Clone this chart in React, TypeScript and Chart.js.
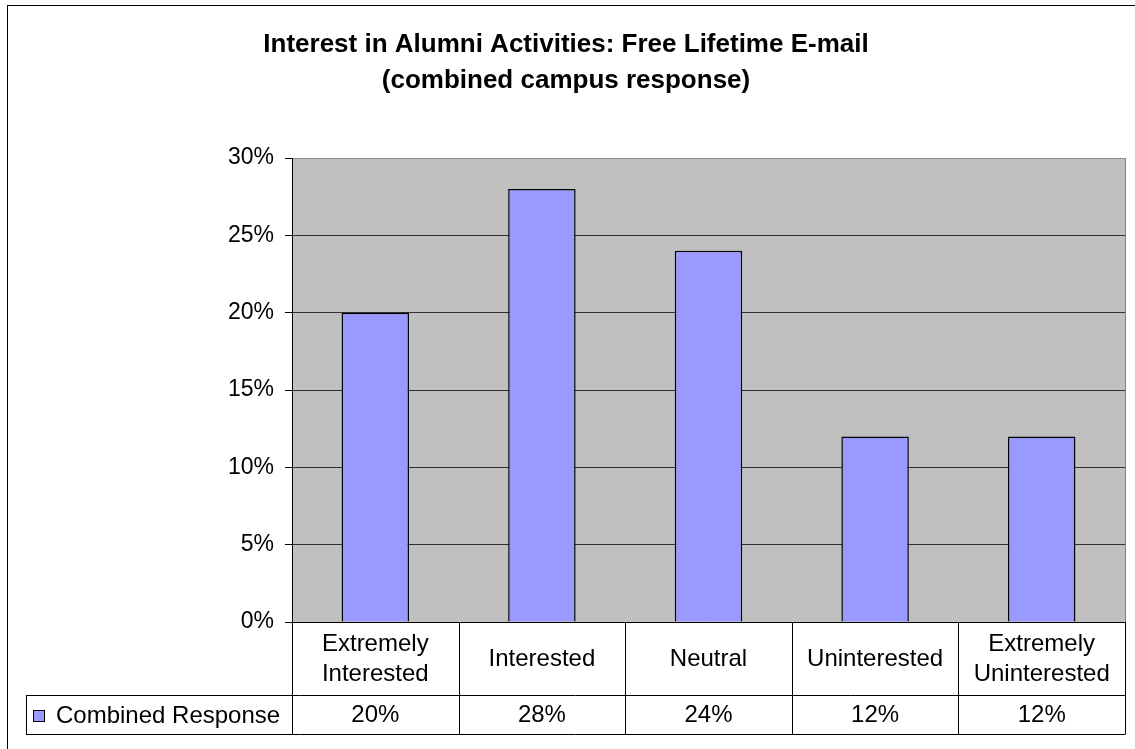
import React, { useEffect, useRef } from "react";
import { Chart, registerables } from "chart.js";

Chart.register(...registerables);

const categories: string[][] = [
  ["Extremely", "Interested"],
  ["Interested"],
  ["Neutral"],
  ["Uninterested"],
  ["Extremely", "Uninterested"],
];
const seriesName = "Combined Response";
const values: number[] = [20, 28, 24, 12, 12];
const yTicks: number[] = [0, 5, 10, 15, 20, 25, 30];
const titleLines: string[] = [
  "Interest in Alumni Activities: Free Lifetime E-mail",
  "(combined campus response)",
];

const FONT = "'Liberation Sans', Arial, sans-serif";
const BAR_COLOR = "#9999FF";

const excelPlugin = {
  id: "excelPlugin",
  beforeDraw(chart: any) {
    const ctx = chart.ctx;
    const a = chart.chartArea;
    ctx.save();
    ctx.fillStyle = "#ffffff";
    ctx.fillRect(0, 0, chart.width, chart.height);
    ctx.fillStyle = "#C0C0C0";
    ctx.fillRect(a.left, a.top, a.right - a.left, a.bottom - a.top);
    ctx.restore();
  },
  afterDraw(chart: any) {
    const ctx = chart.ctx;
    const a = chart.chartArea;
    const x = chart.scales.x;
    ctx.save();
    // outer frame
    ctx.strokeStyle = "#000";
    ctx.lineWidth = 1;
    ctx.strokeRect(7.5, 5.5, chart.width + 20, chart.height + 20);

    // title
    ctx.fillStyle = "#000";
    ctx.font = `bold 26px ${FONT}`;
    ctx.textAlign = "center";
    ctx.textBaseline = "middle";
    ctx.fillText(titleLines[0], 566, 45);
    ctx.fillText(titleLines[1], 566, 81);

    // plot right border
    ctx.strokeStyle = "#808080";
    ctx.beginPath();
    ctx.moveTo(a.right + 0.5, a.top);
    ctx.lineTo(a.right + 0.5, a.bottom);
    ctx.stroke();

    // data table
    const n = categories.length;
    const colW = (a.right - a.left) / n;
    const row1Top = a.bottom;
    const row2Top = a.bottom + 73;
    const row2Bot = a.bottom + 112;
    const legendLeft = 26;

    ctx.strokeStyle = "#000";
    ctx.lineWidth = 1;
    ctx.beginPath();
    ctx.moveTo(a.left, Math.round(row1Top) + 0.5);
    ctx.lineTo(a.right, Math.round(row1Top) + 0.5);
    ctx.moveTo(legendLeft, row2Top + 0.5);
    ctx.lineTo(a.right, row2Top + 0.5);
    ctx.moveTo(legendLeft, row2Bot + 0.5);
    ctx.lineTo(a.right, row2Bot + 0.5);
    for (let i = 0; i <= n; i++) {
      const vx = Math.round(a.left + i * colW) + 0.5;
      ctx.moveTo(vx, row1Top);
      ctx.lineTo(vx, row2Bot + 0.5);
    }
    ctx.moveTo(legendLeft + 0.5, row2Top);
    ctx.lineTo(legendLeft + 0.5, row2Bot + 0.5);
    ctx.stroke();

    ctx.font = `24px ${FONT}`;
    ctx.fillStyle = "#000";
    ctx.textAlign = "center";
    ctx.textBaseline = "middle";
    for (let i = 0; i < n; i++) {
      const cx = x.getPixelForValue(i);
      const lines = categories[i];
      const mid = (row1Top + row2Top) / 2 + 1;
      const lh = 30;
      lines.forEach((ln, j) => {
        ctx.fillText(ln, cx, mid + (j - (lines.length - 1) / 2) * lh);
      });
      ctx.fillText(values[i] + "%", cx, (row2Top + row2Bot) / 2 + 1);
    }

    // legend key
    const keyY = Math.round((row2Top + row2Bot) / 2) + 1;
    ctx.fillStyle = BAR_COLOR;
    ctx.fillRect(33.5, keyY - 5.5, 11, 11);
    ctx.strokeStyle = "#000";
    ctx.strokeRect(33.5, keyY - 5.5, 11, 11);
    ctx.fillStyle = "#000";
    ctx.textAlign = "left";
    ctx.fillText(seriesName, 56, keyY);
    ctx.restore();
  },
};

export default function App() {
  const ref = useRef<HTMLCanvasElement | null>(null);
  useEffect(() => {
    if (!ref.current) return;
    const chart = new Chart(ref.current, {
      type: "bar",
      data: {
        labels: categories.map((c) => c.join(" ")),
        datasets: [
          {
            label: seriesName,
            data: values,
            backgroundColor: BAR_COLOR,
            borderColor: "#000",
            borderWidth: 1.5,
            categoryPercentage: 1,
            barPercentage: 0.405,
          },
        ],
      },
      options: {
        responsive: false,
        animation: false,
        layout: { padding: { left: 0, top: 158, right: 10, bottom: 127 } },
        plugins: {
          legend: { display: false },
          tooltip: { enabled: false },
          title: { display: false },
        },
        scales: {
          x: {
            display: false,
            grid: { display: false },
          },
          y: {
            min: 0,
            max: 30,
            afterFit: (scale: any) => {
              scale.width = 292;
            },
            afterBuildTicks: (scale: any) => {
              scale.ticks = yTicks.map((v) => ({ value: v }));
            },
            ticks: {
              color: "#000",
              font: { family: FONT, size: 23 },
              padding: 11,
              callback: (v: any) => v + "%",
            },
            grid: {
              color: (c: any) => (c.tick && c.tick.value === 30 ? "#909090" : "#303030"),
              tickColor: "#000",
              tickLength: 7,
              lineWidth: 1,
            },
            border: { display: true, color: "#000", width: 1 },
          },
        },
      },
      plugins: [excelPlugin],
    });
    return () => chart.destroy();
  }, []);
  return (
    <div style={{ position: "fixed", left: 0, top: 0, width: 1135, height: 749 }}>
      <canvas ref={ref} width={1135} height={749} style={{ width: 1135, height: 749 }} />
    </div>
  );
}
